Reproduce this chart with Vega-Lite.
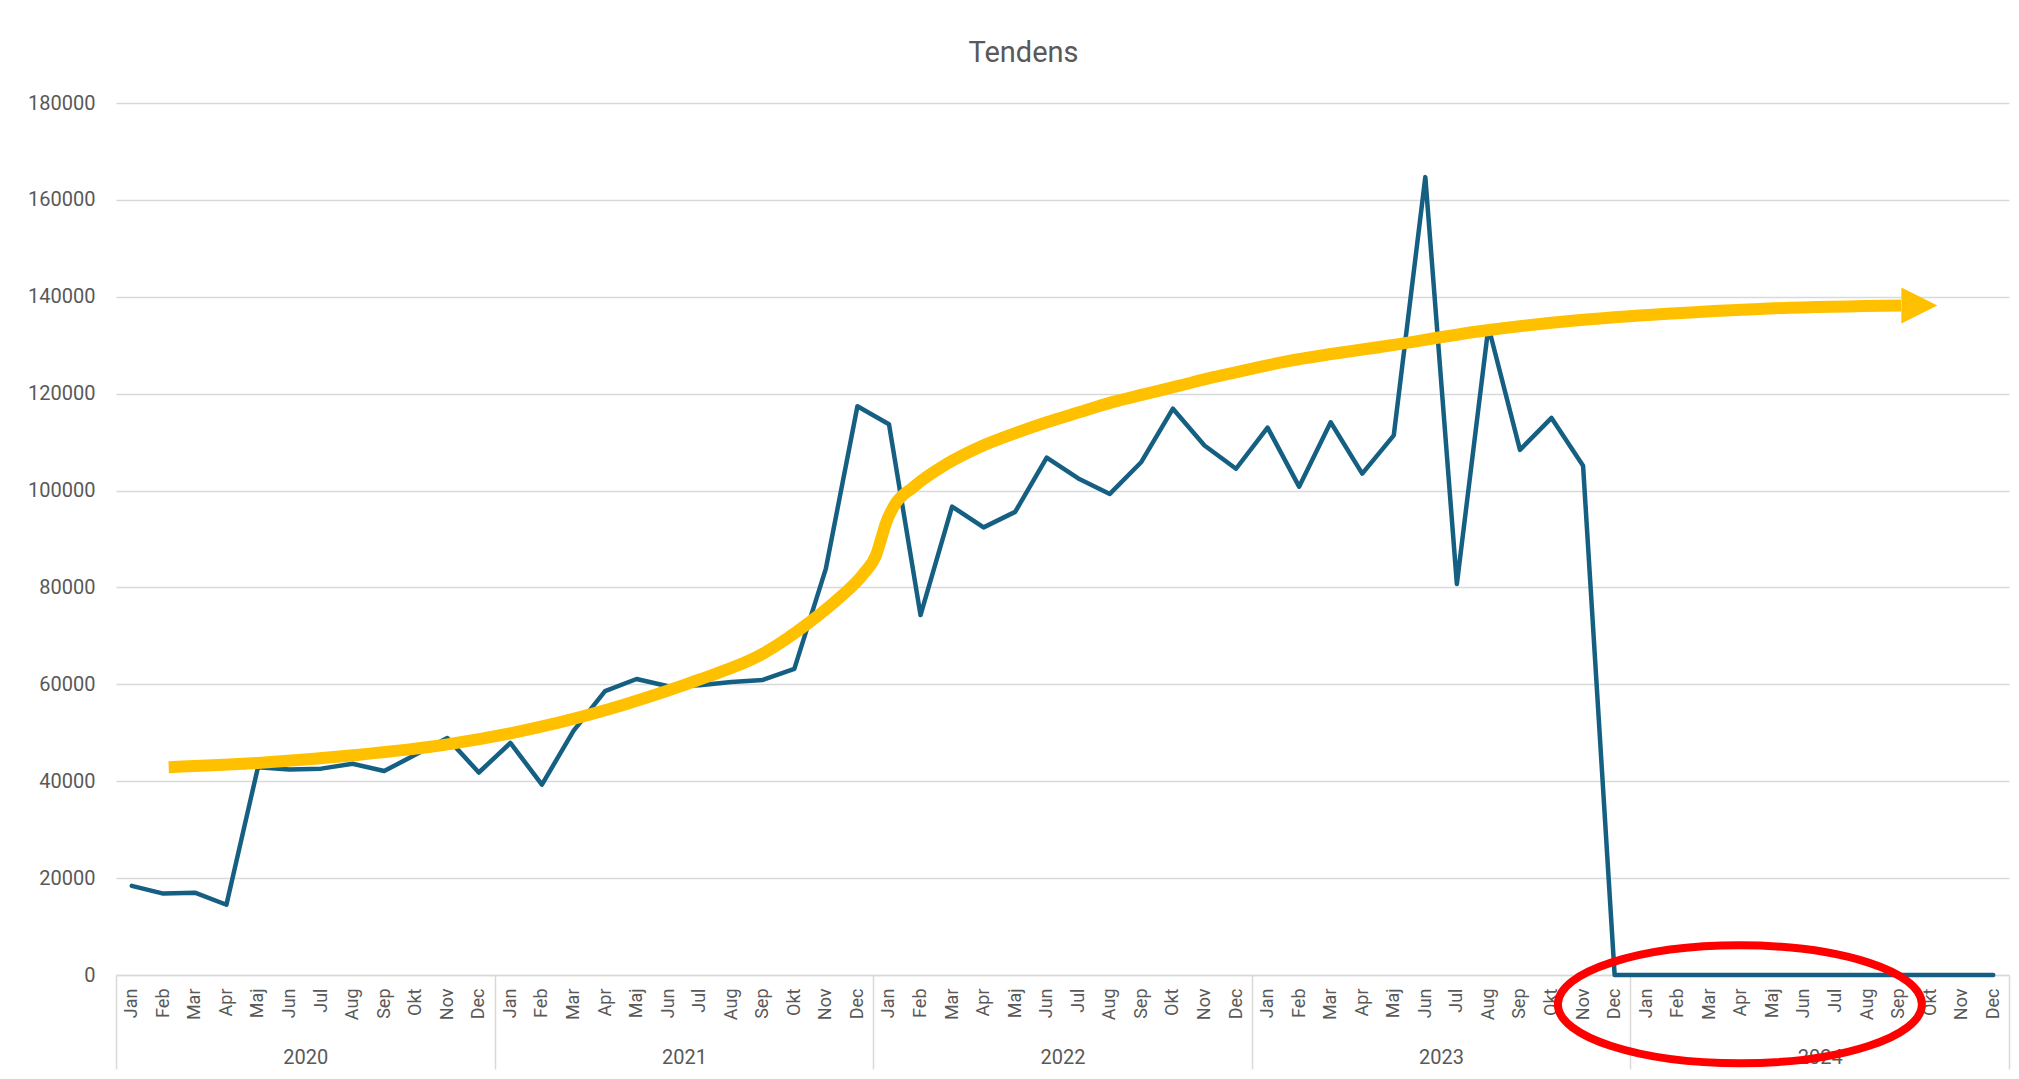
{
  "$schema": "https://vega.github.io/schema/vega-lite/v6.json",
  "width": 1893,
  "height": 872,
  "autosize": {"type": "none"},
  "padding": {"left": 116, "top": 103, "right": 10, "bottom": 104},
  "background": "white",
  "title": {
    "text": "Tendens",
    "frame": "group",
    "anchor": "middle",
    "dx": -39,
    "offset": 2,
    "baseline": "alphabetic",
    "font": "Roboto",
    "fontSize": 29,
    "fontWeight": "normal",
    "color": "#595959"
  },
  "config": {
    "view": {"stroke": null},
    "font": "Roboto",
    "axis": {"labelFont": "Roboto", "labelColor": "#595959"}
  },
  "datasets": {
    "salg": [
      {"year": 2020, "month": "Jan", "idx": 0, "value": 18400},
      {"year": 2020, "month": "Feb", "idx": 1, "value": 16800},
      {"year": 2020, "month": "Mar", "idx": 2, "value": 17000},
      {"year": 2020, "month": "Apr", "idx": 3, "value": 14500},
      {"year": 2020, "month": "Maj", "idx": 4, "value": 42900},
      {"year": 2020, "month": "Jun", "idx": 5, "value": 42400},
      {"year": 2020, "month": "Jul", "idx": 6, "value": 42600},
      {"year": 2020, "month": "Aug", "idx": 7, "value": 43600},
      {"year": 2020, "month": "Sep", "idx": 8, "value": 42100},
      {"year": 2020, "month": "Okt", "idx": 9, "value": 45500},
      {"year": 2020, "month": "Nov", "idx": 10, "value": 48900},
      {"year": 2020, "month": "Dec", "idx": 11, "value": 41800},
      {"year": 2021, "month": "Jan", "idx": 12, "value": 47900},
      {"year": 2021, "month": "Feb", "idx": 13, "value": 39300},
      {"year": 2021, "month": "Mar", "idx": 14, "value": 50400},
      {"year": 2021, "month": "Apr", "idx": 15, "value": 58600},
      {"year": 2021, "month": "Maj", "idx": 16, "value": 61100},
      {"year": 2021, "month": "Jun", "idx": 17, "value": 59600},
      {"year": 2021, "month": "Jul", "idx": 18, "value": 59800},
      {"year": 2021, "month": "Aug", "idx": 19, "value": 60500},
      {"year": 2021, "month": "Sep", "idx": 20, "value": 60900},
      {"year": 2021, "month": "Okt", "idx": 21, "value": 63200},
      {"year": 2021, "month": "Nov", "idx": 22, "value": 83900},
      {"year": 2021, "month": "Dec", "idx": 23, "value": 117400},
      {"year": 2022, "month": "Jan", "idx": 24, "value": 113700},
      {"year": 2022, "month": "Feb", "idx": 25, "value": 74300},
      {"year": 2022, "month": "Mar", "idx": 26, "value": 96700},
      {"year": 2022, "month": "Apr", "idx": 27, "value": 92400},
      {"year": 2022, "month": "Maj", "idx": 28, "value": 95600},
      {"year": 2022, "month": "Jun", "idx": 29, "value": 106800},
      {"year": 2022, "month": "Jul", "idx": 30, "value": 102500},
      {"year": 2022, "month": "Aug", "idx": 31, "value": 99300},
      {"year": 2022, "month": "Sep", "idx": 32, "value": 105900},
      {"year": 2022, "month": "Okt", "idx": 33, "value": 116900},
      {"year": 2022, "month": "Nov", "idx": 34, "value": 109300},
      {"year": 2022, "month": "Dec", "idx": 35, "value": 104500},
      {"year": 2023, "month": "Jan", "idx": 36, "value": 113000},
      {"year": 2023, "month": "Feb", "idx": 37, "value": 100800},
      {"year": 2023, "month": "Mar", "idx": 38, "value": 114100},
      {"year": 2023, "month": "Apr", "idx": 39, "value": 103500},
      {"year": 2023, "month": "Maj", "idx": 40, "value": 111400},
      {"year": 2023, "month": "Jun", "idx": 41, "value": 164700},
      {"year": 2023, "month": "Jul", "idx": 42, "value": 80700},
      {"year": 2023, "month": "Aug", "idx": 43, "value": 133800},
      {"year": 2023, "month": "Sep", "idx": 44, "value": 108400},
      {"year": 2023, "month": "Okt", "idx": 45, "value": 115000},
      {"year": 2023, "month": "Nov", "idx": 46, "value": 105100},
      {"year": 2023, "month": "Dec", "idx": 47, "value": 0},
      {"year": 2024, "month": "Jan", "idx": 48, "value": 0},
      {"year": 2024, "month": "Feb", "idx": 49, "value": 0},
      {"year": 2024, "month": "Mar", "idx": 50, "value": 0},
      {"year": 2024, "month": "Apr", "idx": 51, "value": 0},
      {"year": 2024, "month": "Maj", "idx": 52, "value": 0},
      {"year": 2024, "month": "Jun", "idx": 53, "value": 0},
      {"year": 2024, "month": "Jul", "idx": 54, "value": 0},
      {"year": 2024, "month": "Aug", "idx": 55, "value": 0},
      {"year": 2024, "month": "Sep", "idx": 56, "value": 0},
      {"year": 2024, "month": "Okt", "idx": 57, "value": 0},
      {"year": 2024, "month": "Nov", "idx": 58, "value": 0},
      {"year": 2024, "month": "Dec", "idx": 59, "value": 0}
    ],
    "tendens": [
      {"pos": 1.17, "value": 42900},
      {"pos": 4.3, "value": 43900},
      {"pos": 7.1, "value": 45400},
      {"pos": 10.0, "value": 47600},
      {"pos": 12.8, "value": 51000},
      {"pos": 15.6, "value": 55800},
      {"pos": 18.0, "value": 61000},
      {"pos": 20.0, "value": 66300},
      {"pos": 21.5, "value": 72900},
      {"pos": 22.45, "value": 78000},
      {"pos": 23.19, "value": 82800},
      {"pos": 23.61, "value": 87000},
      {"pos": 23.77, "value": 90400},
      {"pos": 23.9, "value": 93200},
      {"pos": 24.14, "value": 96600},
      {"pos": 24.77, "value": 100700},
      {"pos": 25.83, "value": 105500},
      {"pos": 26.88, "value": 109000},
      {"pos": 27.94, "value": 111700},
      {"pos": 29.0, "value": 114100},
      {"pos": 30.05, "value": 116200},
      {"pos": 31.11, "value": 118300},
      {"pos": 32.17, "value": 120000},
      {"pos": 33.23, "value": 121700},
      {"pos": 34.28, "value": 123400},
      {"pos": 35.34, "value": 124900},
      {"pos": 36.4, "value": 126400},
      {"pos": 39.93, "value": 130000},
      {"pos": 42.84, "value": 133000},
      {"pos": 45.74, "value": 135100},
      {"pos": 48.66, "value": 136500},
      {"pos": 51.57, "value": 137500},
      {"pos": 56.08, "value": 138200}
    ],
    "pil": [{"pos": 56.66, "value": 138200}],
    "markering": [{"pos": 50.97, "value": -6050}]
  },
  "resolve": {"axis": {"x": "independent"}},
  "layer": [
    {
      "data": {"name": "salg"},
      "mark": {"type": "line", "color": "#156082", "strokeWidth": 4.5, "strokeJoin": "round", "strokeCap": "round"},
      "encoding": {
        "x": {
          "field": "idx",
          "type": "quantitative",
          "scale": {"domain": [-0.5, 59.5], "nice": false, "zero": false},
          "axis": {
            "orient": "bottom",
            "title": null,
            "values": [0,1,2,3,4,5,6,7,8,9,10,11,12,13,14,15,16,17,18,19,20,21,22,23,24,25,26,27,28,29,30,31,32,33,34,35,36,37,38,39,40,41,42,43,44,45,46,47,48,49,50,51,52,53,54,55,56,57,58,59],
            "labelExpr": "['Jan','Feb','Mar','Apr','Maj','Jun','Jul','Aug','Sep','Okt','Nov','Dec'][datum.value % 12]",
            "labelAngle": -90,
            "labelFontSize": 18,
            "labelPadding": 13,
            "labelFlush": false,
            "labelOverlap": false,
            "ticks": false,
            "tickSize": 0,
            "grid": false,
            "domain": true,
            "domainColor": "#d9d9d9",
            "domainWidth": 1.5
          }
        },
        "y": {
          "field": "value",
          "type": "quantitative",
          "scale": {"domain": [0, 180000], "nice": false, "zero": false},
          "axis": {
            "title": null,
            "values": [0, 20000, 40000, 60000, 80000, 100000, 120000, 140000, 160000, 180000],
            "format": "d",
            "labelFontSize": 20,
            "labelPadding": 21,
            "ticks": false,
            "tickSize": 0,
            "domain": false,
            "grid": true,
            "gridColor": "#d9d9d9",
            "gridWidth": 1.5
          }
        }
      }
    },
    {
      "data": {"name": "tendens"},
      "mark": {"type": "line", "color": "#ffc000", "strokeWidth": 12, "interpolate": "monotone", "strokeCap": "butt"},
      "encoding": {
        "x": {
          "field": "pos",
          "type": "quantitative",
          "scale": {"domain": [-0.5, 59.5], "nice": false, "zero": false},
          "axis": {
            "orient": "bottom",
            "title": null,
            "values": [5.5, 17.5, 29.5, 41.5, 53.5],
            "labelExpr": "'' + (2020 + floor(datum.value / 12))",
            "labelAngle": 0,
            "labelFontSize": 20,
            "labelBaseline": "alphabetic",
            "labelPadding": 88,
            "labelFlush": false,
            "labelOverlap": false,
            "ticks": false,
            "tickSize": 0,
            "grid": false,
            "domain": false
          }
        },
        "y": {
          "field": "value",
          "type": "quantitative",
          "scale": {"domain": [0, 180000], "nice": false, "zero": false},
          "axis": {
            "title": null,
            "values": [0, 20000, 40000, 60000, 80000, 100000, 120000, 140000, 160000, 180000],
            "format": "d",
            "labelFontSize": 20,
            "labelPadding": 21,
            "ticks": false,
            "tickSize": 0,
            "domain": false,
            "grid": true,
            "gridColor": "#d9d9d9",
            "gridWidth": 1.5
          }
        }
      }
    },
    {
      "data": {"name": "pil"},
      "mark": {"type": "point", "shape": "M-1,-1L1,0L-1,1Z", "size": 1296, "filled": true, "color": "#ffc000", "opacity": 1},
      "encoding": {
        "x": {
          "field": "pos",
          "type": "quantitative",
          "scale": {"domain": [-0.5, 59.5], "nice": false, "zero": false},
          "axis": null
        },
        "y": {
          "field": "value",
          "type": "quantitative",
          "scale": {"domain": [0, 180000], "nice": false, "zero": false},
          "axis": {
            "title": null,
            "values": [0, 20000, 40000, 60000, 80000, 100000, 120000, 140000, 160000, 180000],
            "format": "d",
            "labelFontSize": 20,
            "labelPadding": 21,
            "ticks": false,
            "tickSize": 0,
            "domain": false,
            "grid": true,
            "gridColor": "#d9d9d9",
            "gridWidth": 1.5
          }
        }
      }
    },
    {
      "data": {"name": "markering"},
      "mark": {"type": "point", "shape": "M-1,0A1,0.324,0,1,1,1,0A1,0.324,0,1,1,-1,0Z", "size": 132496, "filled": false, "stroke": "#ff0000", "strokeWidth": 8, "opacity": 1},
      "encoding": {
        "x": {
          "field": "pos",
          "type": "quantitative",
          "scale": {"domain": [-0.5, 59.5], "nice": false, "zero": false},
          "axis": {
            "orient": "bottom",
            "title": null,
            "values": [-0.5, 11.5, 23.5, 35.5, 47.5, 59.5],
            "labels": false,
            "ticks": true,
            "tickSize": 94,
            "tickColor": "#d9d9d9",
            "tickWidth": 1.5,
            "grid": false,
            "domain": false
          }
        },
        "y": {
          "field": "value",
          "type": "quantitative",
          "scale": {"domain": [0, 180000], "nice": false, "zero": false},
          "axis": {
            "title": null,
            "values": [0, 20000, 40000, 60000, 80000, 100000, 120000, 140000, 160000, 180000],
            "format": "d",
            "labelFontSize": 20,
            "labelPadding": 21,
            "ticks": false,
            "tickSize": 0,
            "domain": false,
            "grid": true,
            "gridColor": "#d9d9d9",
            "gridWidth": 1.5
          }
        }
      }
    }
  ]
}
